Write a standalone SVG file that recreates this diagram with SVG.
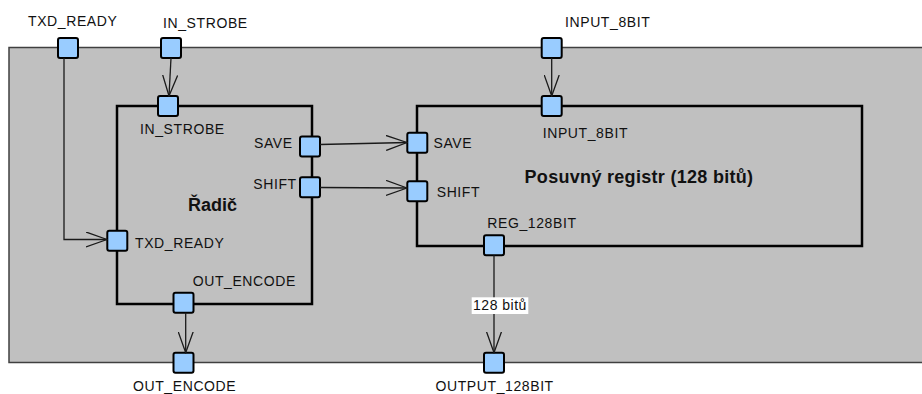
<svg xmlns="http://www.w3.org/2000/svg" width="922" height="394" viewBox="0 0 922 394">
<defs>
<style>
.sys{fill:#c0c0c0;stroke:#404040;stroke-width:1.5}
.blk{fill:none;stroke:#000;stroke-width:2.5}
.port{fill:#99ccff;stroke:#000;stroke-width:2}
.lbl{font-family:"Liberation Sans",Arial,sans-serif;font-size:14px;letter-spacing:0.6px;fill:#111}
.ttl{font-family:"Liberation Sans",Arial,sans-serif;font-size:18px;font-weight:bold;fill:#111}
.con{fill:none;stroke:#1a1a1a;stroke-width:1.3}
.elbl{font-family:"Liberation Sans",Arial,sans-serif;font-size:14px;letter-spacing:0.5px;fill:#111}
</style>
<marker id="arr" markerUnits="userSpaceOnUse" viewBox="0 0 22 16" refX="21" refY="8" markerWidth="22" markerHeight="16" orient="auto">
<path d="M0,0.5 L21,8 L0,15.5" fill="none" stroke="#1a1a1a" stroke-width="1.3"/>
</marker>
</defs>
<g id="system">
<rect class="sys" x="9" y="47.5" width="916" height="315"/>
<rect class="port" x="58" y="38" width="20" height="20" rx="2"/>
<rect class="port" x="161" y="38" width="20" height="20" rx="2"/>
<rect class="port" x="541.7" y="38" width="20" height="20" rx="2"/>
<rect class="port" x="173.5" y="352.7" width="20" height="20" rx="2"/>
<rect class="port" x="484" y="352.7" width="20" height="20" rx="2"/>
<text class="lbl" x="28" y="26">TXD_READY</text>
<text class="lbl" x="163" y="28">IN_STROBE</text>
<text class="lbl" x="565" y="27">INPUT_8BIT</text>
<text class="lbl" x="133" y="391">OUT_ENCODE</text>
<text class="lbl" x="435.5" y="391">OUTPUT_128BIT</text>
</g>
<g id="radic">
<rect class="blk" x="117" y="106" width="195" height="198"/>
<rect class="port" x="158" y="96" width="20" height="20" rx="2"/>
<rect class="port" x="300" y="136.5" width="20" height="20" rx="2"/>
<rect class="port" x="300" y="177.3" width="20" height="20" rx="2"/>
<rect class="port" x="107.3" y="230.7" width="20" height="20" rx="2"/>
<rect class="port" x="173.5" y="292.7" width="20" height="20" rx="2"/>
<text class="lbl" x="140" y="133.5">IN_STROBE</text>
<text class="lbl" x="254" y="148.3">SAVE</text>
<text class="lbl" x="253.3" y="188.5">SHIFT</text>
<text class="ttl" x="188" y="210.7">Řadič</text>
<text class="lbl" x="135" y="247.7">TXD_READY</text>
<text class="lbl" x="192.7" y="286">OUT_ENCODE</text>
</g>
<g id="registr">
<rect class="blk" x="417" y="106" width="445" height="140"/>
<rect class="port" x="541.7" y="96" width="20" height="20" rx="2"/>
<rect class="port" x="407.3" y="132.7" width="20" height="20" rx="2"/>
<rect class="port" x="407.3" y="181.3" width="20" height="20" rx="2"/>
<rect class="port" x="484" y="235.3" width="20" height="20" rx="2"/>
<text class="lbl" x="542.7" y="137.7">INPUT_8BIT</text>
<text class="lbl" x="433.5" y="147.5">SAVE</text>
<text class="lbl" x="436.7" y="197.3">SHIFT</text>
<text class="lbl" x="487.3" y="228.3">REG_128BIT</text>
<text class="ttl" x="639" y="182.5" text-anchor="middle" letter-spacing="0.3">Posuvný registr (128 bitů)</text>
</g>
<g id="connectors">
<path class="con" d="M64,58 V239.5 H107" marker-end="url(#arr)"/>
<path class="con" d="M171,58 L169,96" marker-end="url(#arr)"/>
<path class="con" d="M551.7,58 V96" marker-end="url(#arr)"/>
<path class="con" d="M320,144.5 L407,142.5" marker-end="url(#arr)"/>
<path class="con" d="M320,187.5 L407,188" marker-end="url(#arr)"/>
<path class="con" d="M185.7,312.7 V352.7" marker-end="url(#arr)"/>
<path class="con" d="M494,255.3 V352.7" marker-end="url(#arr)"/>
<rect x="471.7" y="297.3" width="56.6" height="16.7" fill="#fff"/>
<text class="elbl" x="500" y="310" text-anchor="middle">128 bitů</text>
</g>
</svg>
